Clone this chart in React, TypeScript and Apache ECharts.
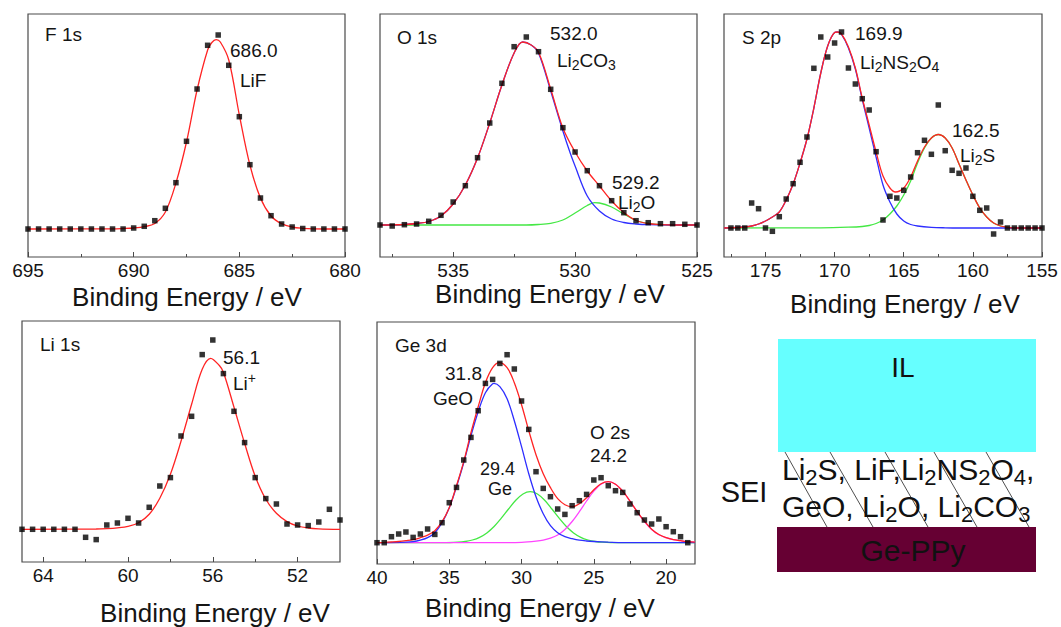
import React, { useEffect, useRef } from 'react';
import * as echarts from 'echarts';

const FONT = "'Liberation Sans', Arial, Helvetica, sans-serif";
const RED = '#ff2424';
const BLUE = '#2e2eff';
const GREEN = '#44e844';
const MAGENTA = '#ff44ff';

// ---------- F 1s ----------
const F1S_POINTS = [
  [695, 0], [694.5, 0], [694, 0], [693.5, 0], [693, 0], [692.5, 0], [692, 0], [691.5, 0], [691, 0], [690.5, 0],
  [690, 1], [689.5, 2.7], [689, 8.3], [688.5, 20.7], [688, 46.3], [687.5, 87.7], [687, 140], [686.5, 183.7],
  [686, 194], [685.5, 163.7], [685, 112.3], [684.5, 64.3], [684, 31], [683.5, 13.3], [683, 5], [682.5, 2],
  [682, 0.5], [681.5, 0], [681, 0], [680.5, 0], [680, 0],
];
const F1S_FIT = [
  [695, 0], [691, 0.2], [690.5, 0.5], [690, 1], [689.5, 2.3], [689, 5.5], [688.5, 17], [688, 46], [687.5, 87],
  [687, 139], [686.5, 179], [686.3, 186.5], [686.1, 189.3], [685.9, 187], [685.5, 169], [685, 114], [684.5, 64],
  [684, 31], [683.5, 13], [683, 5.3], [682.5, 2], [682, 0.7], [681.5, 0.2], [680, 0],
];

// ---------- O 1s ----------
const O1S_POINTS = [
  [538, 0], [537.5, -1], [537, 0.3], [536.5, 1], [536, 3.7], [535.5, 9.7], [535, 23], [534.5, 39.3], [534, 67.3],
  [533.5, 102], [533, 141.7], [532.5, 178.3], [532, 188], [531.5, 173.3], [531, 135.7], [530.5, 97.3], [530, 73],
  [529.5, 54.3], [529, 39.3], [528.5, 24.3], [528, 12.3], [527.5, 4.3], [527, 2.3], [526.5, 1.3], [526, 1.3],
  [525.5, 0.7], [525, 0],
];
const O1S_FIT = [
  [538, 0], [537, 0.5], [536.5, 1.5], [536, 3.5], [535.5, 9], [535, 21], [534.5, 40], [534, 67], [533.5, 102],
  [533, 140], [532.5, 172], [532.15, 183], [531.8, 180], [531.5, 173], [531, 136], [530.5, 97], [530, 73],
  [529.5, 54], [529, 39], [528.5, 24], [528, 12.5], [527.5, 4.5], [527, 1.5], [526.5, 0.5], [526, 0], [525, 0],
];
const O1S_LI2CO3 = [
  [538, 0], [537, 0.5], [536.5, 1.5], [536, 3.5], [535.5, 9], [535, 21], [534.5, 40], [534, 67], [533.5, 102],
  [533, 140], [532.5, 172], [532.15, 183], [531.8, 180], [531.5, 172], [531, 134], [530.5, 94], [530.2, 72],
  [530, 59], [529.5, 29], [529, 14], [528.5, 6], [528, 2.5], [527.5, 1], [527, 0.3], [526, 0], [525, 0],
];
const O1S_LI2O = [
  [538, 0], [532, 0], [531.5, 0.5], [531, 1.7], [530.5, 5], [530, 12], [529.5, 19.5], [529.2, 22.3], [529, 22],
  [528.5, 18], [528, 11], [527.5, 4.5], [527, 1.5], [526.5, 0.3], [526, 0], [525, 0],
];

// ---------- S 2p ----------
const S2P_POINTS = [
  [177.5, 0], [177, 0], [176.5, 0], [176, 25], [175.5, 19.3], [175, 0], [174.5, -3.3], [174, 11.3], [173.5, 29],
  [173, 44.3], [172.5, 65.7], [172, 91], [171.5, 159.7], [171, 191], [170.5, 171], [170, 185], [169.5, 196],
  [169, 160], [168.5, 144], [168, 129.3], [167.5, 118], [167, 76.3], [166.5, 8], [166, 31.7], [165.5, 30],
  [165, 37.7], [164.5, 51], [164, 75.3], [163.5, 87.7], [163, 73.7], [162.5, 123], [162, 77.3], [161.5, 57.7],
  [161, 54.7], [160.5, 60], [160, 31.7], [159.5, 17.7], [159, 20], [158.5, -6], [158, 6], [157.5, 0], [157, 0],
  [156.5, 0], [156, 0], [155.5, 0], [155, 0],
];
const S2P_FIT = [
  [178, 0], [177, 0.5], [176.5, 1], [176, 2], [175.5, 4], [175, 7], [174.5, 11], [174, 16], [173.5, 28], [173, 44],
  [172.5, 65], [172, 89], [171.5, 120], [171, 155], [170.5, 182], [170, 195.5], [169.8, 196], [169.5, 194],
  [169, 181], [168.5, 160], [168, 130], [167.5, 103], [167, 76], [166.5, 52], [166, 40], [165.6, 36], [165, 40],
  [164.5, 51], [164, 67], [163.5, 81], [163, 90], [162.5, 93.5], [162, 90], [161.5, 80], [161, 64], [160.5, 48],
  [160, 33], [159.5, 20], [159, 11], [158.5, 5], [158, 2], [157.5, 0.7], [157, 0], [155, 0],
];
const S2P_LI2NS2O4 = [
  [178, 0], [177, 0.5], [176.5, 1], [176, 2], [175.5, 4], [175, 7], [174.5, 11], [174, 16], [173.5, 28], [173, 44],
  [172.5, 65], [172, 89], [171.5, 120], [171, 155], [170.5, 182], [170, 195.5], [169.8, 196], [169.5, 193.5],
  [169, 180], [168.5, 159], [168, 128.5], [167.5, 100], [167, 71], [166.5, 43], [166, 26], [165.5, 14], [165, 7],
  [164.5, 3.5], [164, 2], [163, 0.7], [162, 0.2], [161, 0], [155, 0],
];
const S2P_LI2S = [
  [178, 0], [171, 0.2], [169, 0.8], [168, 1.5], [167.5, 2.5], [167, 4.5], [166.5, 8], [166, 14], [165.5, 22],
  [165, 33], [164.5, 47], [164, 65], [163.5, 80], [163, 90], [162.5, 93.5], [162, 90], [161.5, 80], [161, 64],
  [160.5, 48], [160, 33], [159.5, 20], [159, 11], [158.5, 5], [158, 2], [157.5, 0.7], [157, 0], [155, 0],
];

// ---------- Li 1s ----------
const LI1S_POINTS = [
  [65, 0], [64.5, 0], [64, 0], [63.5, 0], [63, 0], [62.5, 0], [62, -8], [61.5, -10.3], [61, 4.3], [60.5, 6.3],
  [60, 11], [59.5, 6.3], [59, 22], [58.5, 43.3], [58, 51.7], [57.5, 93.3], [57, 113], [56.5, 174.7], [56, 189.3],
  [55.5, 155.7], [55, 118], [54.5, 86.7], [54, 51.7], [53.5, 30.7], [53, 25.3], [52.5, 5.3], [52, 4.3],
  [51.5, 3.7], [51, 7.3], [50.5, 20], [50, 9.3],
];
const LI1S_FIT = [
  [65, 0], [61.5, 0.3], [61, 0.7], [60.5, 1.5], [60, 3], [59.5, 6.5], [59, 15], [58.5, 31], [58, 55], [57.5, 88],
  [57, 125], [56.5, 160], [56.1, 171], [55.7, 164], [55.5, 157], [55, 122], [54.5, 86], [54, 53], [53.5, 30],
  [53, 16], [52.5, 7.7], [52, 3.3], [51.5, 1.3], [51, 0.5], [50, 0],
];

// ---------- Ge 3d ----------
const GE3D_POINTS = [
  [40, 0], [39.5, 0], [39, 6], [38.5, 8.7], [38, 10.7], [37.5, 5.3], [37, 8.7], [36.5, 13.7], [36, 8.3], [35.5, 20],
  [35, 40], [34.5, 55.3], [34, 82.7], [33.5, 105.3], [33, 132], [32.5, 159.3], [32, 163.3], [31.5, 179.3],
  [31, 188], [30.5, 173.7], [30, 141.7], [29.5, 113.3], [29, 71], [28.5, 54.3], [28, 46], [27.5, 33.7],
  [27, 28.3], [26.5, 37], [26, 42], [25.5, 48.3], [25, 62.7], [24.5, 65], [24, 57], [23.5, 52], [23, 50.3],
  [22.5, 38.7], [22, 30], [21.5, 22.7], [21, 18.7], [20.5, 23.7], [20, 16], [19.5, 11], [19, 6], [18.5, 0],
];
const GE3D_FIT = [
  [40, 0], [39.5, 0.3], [39, 0.7], [38.5, 1.2], [38, 2], [37.5, 3], [37, 5], [36.5, 7.5], [36, 12], [35.5, 21],
  [35, 35], [34.5, 57], [34, 81], [33.5, 110], [33, 136], [32.5, 160], [32, 175], [31.55, 180], [31, 175],
  [30.5, 160], [30, 138], [29.5, 112], [29, 88], [28.5, 69], [28, 55], [27.5, 44], [27, 38], [26.5, 36], [26, 39],
  [25.5, 45], [25, 53], [24.5, 59], [24, 61], [23.5, 58.5], [23, 51.5], [22.5, 41.7], [22, 31], [21.5, 21.5],
  [21, 13.5], [20.5, 8.2], [20, 5], [19.5, 3], [19, 2], [18.5, 1], [18, 0.5],
];
const GE3D_GEO = [
  [40, 0], [38, 0.5], [37.5, 1], [37, 2.5], [36.5, 5], [36, 10], [35.5, 20], [35, 35], [34.5, 56], [34, 80],
  [33.5, 107], [33, 131], [32.5, 150], [32, 159], [31.9, 159.3], [31.5, 156], [31, 144], [30.5, 122], [30, 96],
  [29.5, 69], [29, 46], [28.5, 29], [28, 17], [27.5, 10], [27, 6], [26.5, 4], [26, 2.5], [25.5, 1.7], [25, 1.2],
  [24, 0.5], [23, 0], [18, 0],
];
const GE3D_GE = [
  [40, 0], [35.4, 0], [34.4, 0.5], [33.9, 1.2], [33.4, 2.7], [32.9, 5.4], [32.4, 9.8], [31.9, 16.2], [31.4, 24.5],
  [30.9, 33.7], [30.4, 42.4], [29.9, 48.7], [29.4, 51], [28.9, 48.7], [28.4, 42.4], [27.9, 33.7], [27.4, 24.5],
  [26.9, 16.2], [26.4, 9.8], [25.9, 5.4], [25.4, 2.7], [24.9, 1.2], [24.4, 0.5], [23.4, 0], [18, 0],
];
const GE3D_O2S = [
  [40, 0], [31, 0], [30, 0.3], [29, 1.5], [28.5, 2.5], [28, 4.5], [27.5, 7.7], [27, 13.3], [26.5, 21.2], [26, 31],
  [25.5, 41.7], [25, 51.5], [24.5, 58.5], [24, 61], [23.5, 58.5], [23, 51.5], [22.5, 41.7], [22, 31], [21.5, 21.2],
  [21, 13.3], [20.5, 8], [20, 5], [19.5, 3], [19, 2], [18.5, 1], [18, 0.5],
];

// ---------- axis ticks ----------
const F1S_TICKS = [695, 690, 685, 680];
const F1S_MINOR = [692.5, 687.5, 682.5];
const O1S_TICKS = [535, 530, 525];
const O1S_MINOR = [537.5, 532.5, 527.5];
const S2P_TICKS = [175, 170, 165, 160, 155];
const S2P_MINOR = [177.5, 172.5, 167.5, 162.5, 157.5];
const LI1S_TICKS = [64, 60, 56, 52];
const LI1S_MINOR = [62, 58, 54];
const GE3D_TICKS = [40, 35, 30, 25, 20];
const GE3D_MINOR = [37.5, 32.5, 27.5, 22.5];

const X_TITLE = 'Binding Energy / eV';

type Part = [string, 'n' | 'b' | 'p'];

function richText(x: number, y: number, parts: Part[], size: number, align: string = 'left', color = '#151515') {
  const lh = Math.round(size * 1.25);
  const small = Math.round(size * 0.72);
  return {
    type: 'text',
    x,
    y,
    silent: true,
    z: 50,
    style: {
      text: parts.map(([t, k]) => `{${k}|${t}}`).join(''),
      align,
      verticalAlign: 'middle',
      textAlign: align,
      textVerticalAlign: 'middle',
      fill: color,
      fontFamily: FONT,
      fontSize: size,
      rich: {
        n: { fontSize: size, fontFamily: FONT, lineHeight: lh, verticalAlign: 'middle', fill: color },
        b: { fontSize: small, fontFamily: FONT, lineHeight: small, verticalAlign: 'bottom', fill: color },
        p: { fontSize: small, fontFamily: FONT, lineHeight: small, verticalAlign: 'top', fill: color },
      },
    },
  };
}

const PANELS = [
  {
    grid: { left: 28, top: 14, width: 317, height: 243 },
    xMin: 680, xMax: 695, yMin: -28, yMax: 215,
    ticks: F1S_TICKS, minor: F1S_MINOR, points: F1S_POINTS,
    curves: [{ data: F1S_FIT, color: RED }],
  },
  {
    grid: { left: 380, top: 14, width: 317, height: 243 },
    xMin: 525, xMax: 538, yMin: -32, yMax: 211,
    ticks: O1S_TICKS, minor: O1S_MINOR, points: O1S_POINTS,
    curves: [
      { data: O1S_LI2O, color: GREEN },
      { data: O1S_LI2CO3, color: BLUE },
      { data: O1S_FIT, color: RED },
    ],
  },
  {
    grid: { left: 724, top: 14, width: 318, height: 243 },
    xMin: 155, xMax: 178, yMin: -29, yMax: 214,
    ticks: S2P_TICKS, minor: S2P_MINOR, points: S2P_POINTS,
    curves: [
      { data: S2P_LI2S, color: GREEN },
      { data: S2P_LI2NS2O4, color: BLUE },
      { data: S2P_FIT, color: RED },
    ],
  },
  {
    grid: { left: 22, top: 321, width: 318, height: 241 },
    xMin: 50, xMax: 65, yMin: -32.7, yMax: 208.3,
    ticks: LI1S_TICKS, minor: LI1S_MINOR, points: LI1S_POINTS,
    curves: [{ data: LI1S_FIT, color: RED }],
  },
  {
    grid: { left: 377, top: 322, width: 318, height: 242 },
    xMin: 18, xMax: 40, yMin: -21.3, yMax: 220.7,
    ticks: GE3D_TICKS, minor: GE3D_MINOR, points: GE3D_POINTS,
    curves: [
      { data: GE3D_GE, color: GREEN },
      { data: GE3D_O2S, color: MAGENTA },
      { data: GE3D_GEO, color: BLUE },
      { data: GE3D_FIT, color: RED },
    ],
  },
];

function buildOption() {
  const grid: any[] = [];
  const xAxis: any[] = [];
  const yAxis: any[] = [];
  const series: any[] = [];
  PANELS.forEach((p, i) => {
    grid.push({
      ...p.grid,
      show: true,
      borderColor: '#4a4a4a',
      borderWidth: 1.2,
      backgroundColor: 'transparent',
      containLabel: false,
    });
    xAxis.push({
      type: 'value',
      gridIndex: i,
      min: p.xMin,
      max: p.xMax,
      inverse: true,
      position: 'bottom',
      axisLine: { show: false, onZero: false },
      splitLine: { show: false },
      axisTick: { show: true, inside: true, length: 5, customValues: p.ticks, lineStyle: { color: '#4a4a4a', width: 1 } },
      axisLabel: { show: true, customValues: p.ticks, fontSize: 19, fontFamily: FONT, color: '#151515', margin: 4 },
    });
    xAxis.push({
      type: 'value',
      gridIndex: i,
      min: p.xMin,
      max: p.xMax,
      inverse: true,
      position: 'bottom',
      axisLine: { show: false, onZero: false },
      splitLine: { show: false },
      axisLabel: { show: false },
      axisTick: { show: true, inside: true, length: 3, customValues: p.minor, lineStyle: { color: '#4a4a4a', width: 1 } },
    });
    yAxis.push({
      type: 'value', gridIndex: i, min: p.yMin, max: p.yMax, show: false,
      axisLine: { show: false, onZero: false }, axisTick: { show: false }, axisLabel: { show: false }, splitLine: { show: false },
    });
    p.curves.forEach((c) => {
      series.push({
        type: 'line',
        xAxisIndex: 2 * i,
        yAxisIndex: i,
        data: c.data,
        showSymbol: false,
        smooth: 0.35,
        silent: true,
        lineStyle: { color: c.color, width: 1.3 },
        itemStyle: { color: c.color },
        z: 2,
      });
    });
    series.push({
      type: 'scatter',
      xAxisIndex: 2 * i,
      yAxisIndex: i,
      data: p.points,
      symbol: 'rect',
      symbolSize: 5.5,
      silent: true,
      itemStyle: { color: '#000' },
      z: 5,
    });
  });

  const ANN = 19;
  const graphic: any[] = [
    // panel labels & annotations
    richText(45, 34, [['F 1s', 'n']], ANN),
    richText(230, 50, [['686.0', 'n']], ANN),
    richText(240, 80, [['LiF', 'n']], ANN),

    richText(397, 37, [['O 1s', 'n']], ANN),
    richText(550, 33, [['532.0', 'n']], ANN),
    richText(557, 60, [['Li', 'n'], ['2', 'b'], ['CO', 'n'], ['3', 'b']], ANN),
    richText(612, 182, [['529.2', 'n']], ANN),
    richText(618, 202, [['Li', 'n'], ['2', 'b'], ['O', 'n']], ANN),

    richText(742, 37, [['S 2p', 'n']], ANN),
    richText(855, 33, [['169.9', 'n']], ANN),
    richText(860, 62, [['Li', 'n'], ['2', 'b'], ['NS', 'n'], ['2', 'b'], ['O', 'n'], ['4', 'b']], ANN),
    richText(952, 130, [['162.5', 'n']], ANN),
    richText(960, 155, [['Li', 'n'], ['2', 'b'], ['S', 'n']], ANN),

    richText(40, 344, [['Li 1s', 'n']], ANN),
    richText(223, 357, [['56.1', 'n']], ANN),
    richText(233, 383, [['Li', 'n'], ['+', 'p']], ANN),

    richText(395, 345, [['Ge 3d', 'n']], ANN),
    richText(445, 373, [['31.8', 'n']], ANN),
    richText(433, 398, [['GeO', 'n']], ANN),
    richText(480, 469, [['29.4', 'n']], 18),
    richText(488, 489, [['Ge', 'n']], 18),
    richText(590, 432, [['O 2s', 'n']], ANN),
    richText(590, 455, [['24.2', 'n']], ANN),

    // axis titles
    richText(187, 297, [[X_TITLE, 'n']], 26, 'center'),
    richText(550, 294, [[X_TITLE, 'n']], 26, 'center'),
    richText(905, 304, [[X_TITLE, 'n']], 26, 'center'),
    richText(215, 613, [[X_TITLE, 'n']], 26, 'center'),
    richText(540, 608, [[X_TITLE, 'n']], 26, 'center'),

    // schematic
    { type: 'rect', silent: true, shape: { x: 778, y: 339, width: 258, height: 113 }, style: { fill: '#66ffff' } },
    { type: 'rect', silent: true, shape: { x: 777, y: 527, width: 259, height: 45 }, style: { fill: '#660033' } },
    { type: 'line', silent: true, shape: { x1: 785, y1: 452, x2: 827, y2: 527 }, style: { stroke: '#222', lineWidth: 0.8 } },
    { type: 'line', silent: true, shape: { x1: 830, y1: 452, x2: 873, y2: 527 }, style: { stroke: '#222', lineWidth: 0.8 } },
    { type: 'line', silent: true, shape: { x1: 885, y1: 452, x2: 928, y2: 527 }, style: { stroke: '#222', lineWidth: 0.8 } },
    { type: 'line', silent: true, shape: { x1: 934, y1: 452, x2: 977, y2: 527 }, style: { stroke: '#222', lineWidth: 0.8 } },
    { type: 'line', silent: true, shape: { x1: 986, y1: 452, x2: 1029, y2: 527 }, style: { stroke: '#222', lineWidth: 0.8 } },
    richText(903, 367, [['IL', 'n']], 28, 'center', '#111'),
    richText(913, 550, [['Ge-PPy', 'n']], 30, 'center', '#111'),
    richText(744, 492, [['SEI', 'n']], 29, 'center', '#111'),
    richText(782, 469, [['Li', 'n'], ['2', 'b'], ['S, LiF,Li', 'n'], ['2', 'b'], ['NS', 'n'], ['2', 'b'], ['O', 'n'], ['4', 'b'], [',', 'n']], 30, 'left', '#111'),
    richText(782, 506, [['GeO, Li', 'n'], ['2', 'b'], ['O, Li', 'n'], ['2', 'b'], ['CO', 'n'], ['3', 'b']], 30, 'left', '#111'),
  ];

  return {
    animation: false,
    backgroundColor: '#ffffff',
    grid,
    xAxis,
    yAxis,
    series,
    graphic,
  };
}

export default function App() {
  const ref = useRef<HTMLDivElement>(null);
  useEffect(() => {
    if (!ref.current) return;
    const chart = echarts.init(ref.current, undefined, { renderer: 'svg' });
    chart.setOption(buildOption() as any);
    return () => chart.dispose();
  }, []);
  return (
    <div
      ref={ref}
      style={{ position: 'absolute', left: 0, top: 0, width: 1061, height: 627, background: '#fff' }}
    />
  );
}
